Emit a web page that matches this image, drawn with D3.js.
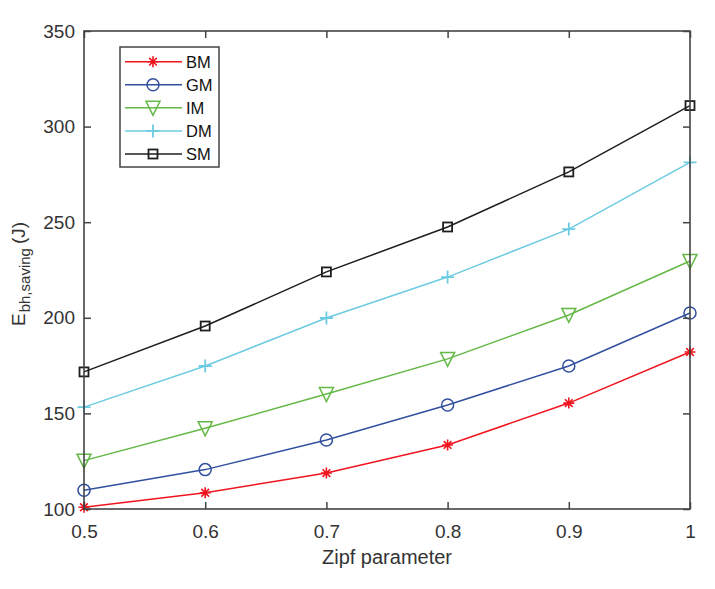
<!DOCTYPE html>
<html><head><meta charset="utf-8">
<script src="https://cdn.jsdelivr.net/npm/d3@7"></script>
<style>body{margin:0;background:#fff}svg{display:block}text{font-family:"Liberation Sans",Arial,sans-serif}</style>
</head><body>
<svg id="c" width="715" height="589"></svg>
<script>
const xValues = [0.5, 0.6, 0.7, 0.8, 0.9, 1.0];
const BM = [100.9, 108.5, 118.8, 133.5, 155.4, 182.1];
const GM = [109.8, 120.6, 136.1, 154.4, 174.8, 202.5];
const IM = [125.3, 142.2, 160.1, 178.5, 201.5, 229.7];
const DM = [153.3, 174.8, 199.9, 221.3, 246.4, 281.3];
const SM = [171.7, 195.7, 224.0, 247.5, 276.3, 311.0];
const xTicks = [0.5, 0.6, 0.7, 0.8, 0.9, 1];
const yTicks = [100, 150, 200, 250, 300, 350];
const seriesNames = ["BM", "GM", "IM", "DM", "SM"];

const series = [
  {name:"BM", values:BM, color:"#f0141e", marker:"star"},
  {name:"GM", values:GM, color:"#3350a0", marker:"circle"},
  {name:"IM", values:IM, color:"#64b846", marker:"triangle"},
  {name:"DM", values:DM, color:"#6ccbe0", marker:"plus"},
  {name:"SM", values:SM, color:"#1e1e1e", marker:"square"}
];

const svg = d3.select("#c");
const L=84, R=690, T=31, B=509;
const x = d3.scaleLinear().domain([0.5,1]).range([L,R]);
const y = d3.scaleLinear().domain([100,350]).range([B,T]);
const axisColor = "#444";

function drawMarker(g, type, cx, cy, color){
  if(type==="star"){
    const s=5.5;
    g.append("path").attr("d",
      `M${cx-s},${cy}L${cx+s},${cy}M${cx},${cy-s}L${cx},${cy+s}`+
      `M${cx-s*0.7},${cy-s*0.7}L${cx+s*0.7},${cy+s*0.7}M${cx-s*0.7},${cy+s*0.7}L${cx+s*0.7},${cy-s*0.7}`)
      .attr("stroke",color).attr("stroke-width",1.6).attr("fill","none");
  } else if(type==="circle"){
    g.append("circle").attr("cx",cx).attr("cy",cy).attr("r",6).attr("fill","none").attr("stroke",color).attr("stroke-width",1.5);
  } else if(type==="triangle"){
    const w=7, h=6.5;
    g.append("path").attr("d",`M${cx-w},${cy-h}L${cx+w},${cy-h}L${cx},${cy+h+1}Z`).attr("fill","none").attr("stroke",color).attr("stroke-width",1.5);
  } else if(type==="plus"){
    const s=6.5;
    g.append("path").attr("d",`M${cx-s},${cy}L${cx+s},${cy}M${cx},${cy-s}L${cx},${cy+s}`).attr("stroke",color).attr("stroke-width",1.8);
  } else if(type==="square"){
    const s=4.5;
    g.append("rect").attr("x",cx-s).attr("y",cy-s).attr("width",2*s).attr("height",2*s).attr("fill","none").attr("stroke",color).attr("stroke-width",1.8);
  }
}

// series
const line = d3.line().x((d,i)=>x(xValues[i])).y(d=>y(d));
const plot = svg.append("g");
series.forEach(s=>{
  plot.append("path").datum(s.values).attr("d",line).attr("fill","none").attr("stroke",s.color).attr("stroke-width",1.5);
  s.values.forEach((v,i)=>drawMarker(plot, s.marker, x(xValues[i]), y(v), s.color));
});

// axes (box with inward ticks)
const ax = svg.append("g");
const fmt = d=> d===1 ? "1" : d3.format(".1f")(d);
ax.append("g").attr("transform",`translate(0,${B})`)
  .call(d3.axisBottom(x).tickValues(xTicks).tickFormat(fmt).tickSizeInner(-7).tickSizeOuter(0).tickPadding(16));
ax.append("g").attr("transform",`translate(0,${T})`)
  .call(d3.axisTop(x).tickValues(xTicks).tickFormat("").tickSizeInner(-7).tickSizeOuter(0));
ax.append("g").attr("transform",`translate(${L},0)`)
  .call(d3.axisLeft(y).tickValues(yTicks).tickSizeInner(-7).tickSizeOuter(0).tickPadding(9));
ax.append("g").attr("transform",`translate(${R},0)`)
  .call(d3.axisRight(y).tickValues(yTicks).tickFormat("").tickSizeInner(-7).tickSizeOuter(0));
ax.selectAll(".domain").remove();
ax.selectAll("line").attr("stroke",axisColor).attr("stroke-width",1.5);
ax.selectAll("text").attr("font-size",19).attr("fill","#333").attr("font-family","Liberation Sans, Arial, sans-serif");
ax.append("rect").attr("x",L).attr("y",T).attr("width",R-L).attr("height",B-T)
  .attr("fill","none").attr("stroke",axisColor).attr("stroke-width",1.6);

// axis labels
svg.append("text").attr("x",387).attr("y",564).attr("text-anchor","middle")
  .attr("font-size",20).attr("fill","#333").text("Zipf parameter");
const yLab = svg.append("text").attr("transform","translate(25,326) rotate(-90)")
  .attr("font-size",19).attr("fill","#333");
yLab.append("tspan").text("E");
yLab.append("tspan").attr("font-size",15).attr("dy",5).attr("dx",1).text("bh,saving");
yLab.append("tspan").attr("dy",-5).attr("dx",4).text("(J)");

// legend
const lg = svg.append("g");
lg.append("rect").attr("x",120).attr("y",47).attr("width",99).attr("height",120)
  .attr("fill","#fff").attr("stroke",axisColor).attr("stroke-width",1.5);
const legY = d3.scalePoint().domain(seriesNames).range([61.7,154]);
series.forEach(s=>{
  const yy = legY(s.name);
  lg.append("line").attr("x1",125).attr("x2",182).attr("y1",yy).attr("y2",yy).attr("stroke",s.color).attr("stroke-width",1.5);
  drawMarker(lg, s.marker, 153, yy, s.color);
  lg.append("text").attr("x",186).attr("y",yy+6).attr("font-size",16.5).attr("fill","#111").text(s.name);
});
</script>
</body></html>
